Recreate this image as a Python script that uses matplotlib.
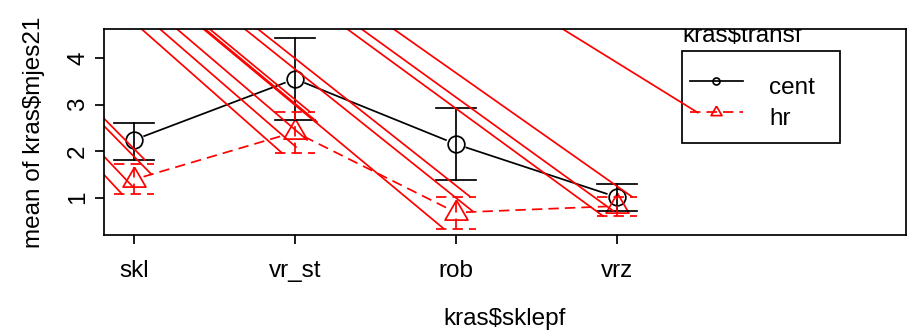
import numpy as np
import matplotlib
matplotlib.use("Agg")
import matplotlib.pyplot as plt
from matplotlib.patches import Rectangle

plt.rcParams['font.family'] = ['Liberation Sans', 'DejaVu Sans']

# ---- data ----
categories = ["skl", "vr_st", "rob", "vrz"]
groups = ["cent", "hr"]
cent_mean = [2.24, 3.55, 2.15, 1.01]
cent_upper = [2.61, 4.43, 2.92, 1.30]
cent_lower = [1.80, 2.66, 1.37, 0.72]
hr_mean = [1.39, 2.41, 0.68, 0.82]
hr_upper = [1.73, 2.84, 1.02, 1.02]
hr_lower = [1.07, 1.95, 0.33, 0.61]
y_ticks = [1, 2, 3, 4]

# stray red segments: common far origin and their end points
stray_origin = (-5.1, 23.4)
stray_end_x = [1.068, 1.106, 0.994, 0.925, 1.919, 2.006, 2.075, 2.137, 2.093,
               3.087, 3.107, 2.921, 3.913, 3.975, 4.092, 4.501]
stray_end_y = [1.811, 1.510, 1.230, 1.080, 1.961, 2.090, 2.241, 2.628, 2.843,
               1.022, 0.699, 0.342, 0.606, 0.720, 1.022, 2.828]

W, H = 913, 330
fig = plt.figure(figsize=(W / 100, H / 100), dpi=100)
L, R, T, B = 103.7, 905.7, 29.0, 235.3
ax = fig.add_axes([L / W, 1 - B / H, (R - L) / W, (B - T) / H])
ax.set_xlim(0.812, 5.793)
ax.set_ylim(0.191, 4.624)

RED = '#FF0000'
FS = 17.5
LW = 1.25
DASH = (6, 3.5)
xpos = np.arange(1, len(categories) + 1)


def gapped(xs, ys, gap_px, **kw):
    pts = ax.transData.transform(np.column_stack([xs, ys]))
    inv = ax.transData.inverted()
    for i in range(len(pts) - 1):
        p0, p1 = pts[i], pts[i + 1]
        d = p1 - p0
        u = d / np.hypot(*d)
        a = inv.transform(p0 + u * gap_px)
        b = inv.transform(p1 - u * gap_px)
        ax.plot([a[0], b[0]], [a[1], b[1]], **kw)


# means with type "b" lines
gapped(xpos, cent_mean, 10, color='black', lw=LW, solid_capstyle='butt')
gapped(xpos, hr_mean, 10, color=RED, lw=LW, dashes=DASH)
ax.plot(xpos, cent_mean, ls='none', marker='o', ms=12, mfc='none', mec='black', mew=LW)
tri = [(0, 1), (0.866, -0.5), (-0.866, -0.5), (0, 1)]
ax.plot(xpos, hr_mean, ls='none', marker=tri, ms=19, mfc='none', mec=RED, mew=LW)

# error bars
cap = 0.127
for x, lo, hi in zip(xpos, cent_lower, cent_upper):
    ax.plot([x, x], [lo, hi], color='black', lw=LW)
    ax.plot([x - cap, x + cap], [hi, hi], color='black', lw=LW)
    ax.plot([x - cap, x + cap], [lo, lo], color='black', lw=LW)
for x, lo, hi in zip(xpos, hr_lower, hr_upper):
    ax.plot([x, x], [lo, hi], color=RED, lw=LW, dashes=DASH)
    ax.plot([x - cap, x + cap], [hi, hi], color=RED, lw=LW, dashes=DASH)
    ax.plot([x - cap, x + cap], [lo, lo], color=RED, lw=LW, dashes=DASH)

# stray red lines
for ex, ey in zip(stray_end_x, stray_end_y):
    ax.plot([stray_origin[0], ex], [stray_origin[1], ey], color=RED, lw=LW)

ax.set_xlim(0.812, 5.793)
ax.set_ylim(0.191, 4.624)

# axes styling
for s in ax.spines.values():
    s.set_linewidth(LW)
ax.set_xticks(xpos)
ax.set_xticklabels(categories, fontsize=FS)
ax.set_yticks(y_ticks)
ax.set_yticklabels([str(v) for v in y_ticks], fontsize=FS, rotation=90, va='center')
ax.tick_params(axis='both', length=6.5, width=LW, direction='out')
ax.tick_params(axis='x', pad=11)
ax.tick_params(axis='y', pad=4)
ax.set_xlabel("kras$sklepf", fontsize=FS, labelpad=19)
ax.set_ylabel("mean of kras$mjes21", fontsize=FS, labelpad=16)


# legend (drawn manually in pixel coordinates)
def fx(px):
    return (px - L) / (R - L)


def fy(py):
    return (B - py) / (B - T)


ax.add_patch(Rectangle((fx(681.7), fy(142.7)), fx(840) - fx(681.7), fy(51) - fy(142.7),
                       transform=ax.transAxes, fill=False, ec='black', lw=LW, clip_on=False))
ax.text(fx(682.7), fy(41.7), "kras$transf", transform=ax.transAxes, fontsize=FS,
        ha='left', va='baseline', clip_on=True)
ax.plot([fx(690), fx(742.7)], [fy(81), fy(81)], transform=ax.transAxes, color='black', lw=LW)
ax.plot([fx(715.7)], [fy(81)], transform=ax.transAxes, marker='o', ms=5, mfc='none',
        mec='black', mew=LW)
ax.plot([fx(690), fx(742.7)], [fy(112), fy(112)], transform=ax.transAxes, color=RED, lw=LW,
        dashes=DASH)
ax.plot([fx(715.7)], [fy(112)], transform=ax.transAxes, marker=tri, ms=9, mfc='none',
        mec=RED, mew=LW)
ax.text(fx(769), fy(94), groups[0], transform=ax.transAxes, fontsize=FS, ha='left', va='baseline')
ax.text(fx(769), fy(125), groups[1], transform=ax.transAxes, fontsize=FS, ha='left', va='baseline')

fig.savefig("out.png", dpi=100)
